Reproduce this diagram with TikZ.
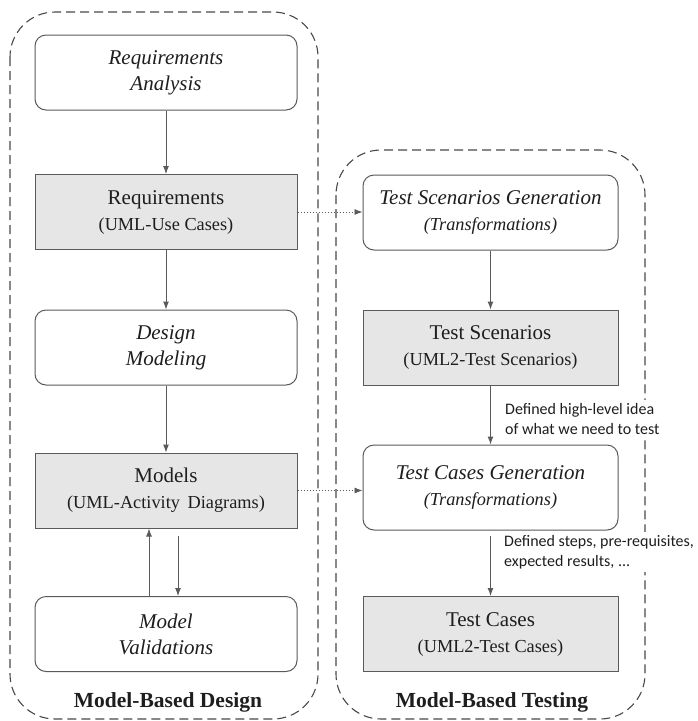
\documentclass[tikz,border=0pt]{standalone}
\usepackage{fontspec}
\setmainfont{Liberation Serif}
\newfontfamily\labelfont{Carlito}
\usetikzlibrary{arrows.meta}
\definecolor{edge}{HTML}{5A5A5A}
\definecolor{boxfill}{HTML}{E6E6E6}
\definecolor{ink}{HTML}{1E1E1E}
\tikzset{
  basebox/.style={draw=edge, line width=1pt, minimum height=75pt, align=center, text=ink,
    font=\fontsize{21}{26}\selectfont, inner sep=2pt},
  procbox/.style={basebox, rounded corners=11pt, fill=white},
  artbox/.style={basebox, fill=boxfill},
  leftw/.style={minimum width=262pt},
  rightw/.style={minimum width=255pt},
  arr/.style={draw=edge, line width=1pt, -{Latex[length=8pt,width=6pt]}},
  dotarr/.style={draw=edge, line width=0.8pt, dash pattern=on 1.5pt off 1.5pt, -{Latex[length=8pt,width=6pt]}},
  group/.style={draw=edge!80!black, line width=1.1pt, dash pattern=on 9pt off 5pt, rounded corners=45pt},
  title/.style={font=\fontsize{21.5}{26}\bfseries\selectfont, text=ink},
  note/.style={font=\labelfont\fontsize{16}{20}\selectfont, align=left, fill=white, text=ink, inner sep=3pt, anchor=west}
}
\newcommand{\sub}[1]{{\fontsize{18.3}{22}\selectfont #1}}
\begin{document}
\begin{tikzpicture}[x=1pt,y=-1pt]
\useasboundingbox (0,0) rectangle (698,721);
% containers
\draw[group] (10,12) rectangle (318,719);
\draw[group] (336,150) rectangle (645,719);
% left column
\node[procbox,leftw] (ra) at (166,72.5) {\itshape Requirements\\\itshape Analysis};
\node[artbox,leftw]  (rq) at (166,212) {Requirements\\\sub{(UML-Use Cases)}};
\node[procbox,leftw] (dm) at (166,347.5) {\itshape Design\\\itshape Modeling};
\node[artbox,leftw]  (md) at (166,490.5) {Models\\\sub{(UML-Activity\, Diagrams)}};
\node[procbox,leftw] (mv) at (166,634) {\itshape Model\\\itshape Validations};
\node[title] (t1) at (168,702) {Model-Based Design};
% right column
\node[procbox,rightw] (tsg) at (490.5,212.5) {\itshape Test Scenarios Generation\\\sub{\itshape (Transformations)}};
\node[artbox,rightw]  (ts)  at (490.5,347.5) {Test Scenarios\\\sub{(UML2-Test Scenarios)}};
\node[procbox,rightw,minimum height=85pt] (tcg) at (490.5,487.5) {\itshape Test Cases Generation\\\sub{\itshape (Transformations)}};
\node[artbox,rightw]  (tc)  at (490.5,634) {Test Cases\\\sub{(UML2-Test Cases)}};
\node[title] (t2) at (492,702) {Model-Based Testing};
% notes
\node[note] (n1) at (502,419) {Defined high-level idea\\of what we need to test};
\node[note] (n2) at (501,552) {Defined steps, pre-requisites,\\expected results, ...};
% arrows left
\draw[arr] (ra) -- (rq);
\draw[arr] (rq) -- (dm);
\draw[arr] (dm) -- (md);
\draw[arr] ([xshift=-17pt]mv.north) -- ([xshift=-17pt]md.south);
\draw[arr] ([xshift=12pt,yshift=-7pt]md.south) -- ([xshift=12pt]mv.north);
% arrows right
\draw[arr] (tsg) -- (ts);
\draw[arr] (ts.south) -- (tcg.north);
\draw[arr] ([yshift=-5pt]tcg.south) -- (tc.north);
% cross links
\draw[dotarr] (rq.east) -- (rq.east -| tsg.west);
\draw[dotarr] (md.east) -- (md.east -| tcg.west);
\end{tikzpicture}
\end{document}
